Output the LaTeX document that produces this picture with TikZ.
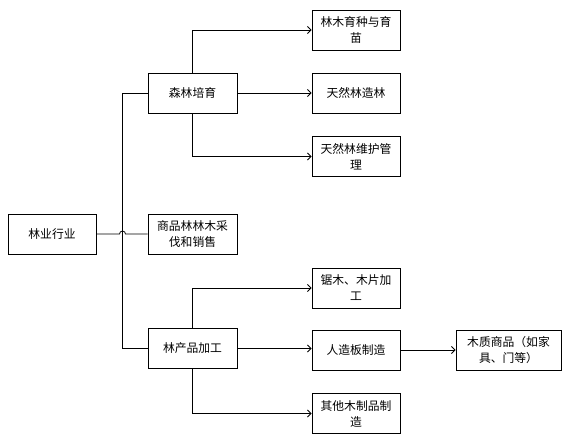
\documentclass[tikz,border=0pt]{standalone}
\usepackage{fontspec}
\setmainfont{Noto Sans CJK SC}
\usetikzlibrary{arrows.meta}
\begin{document}
\begin{tikzpicture}[x=1pt,y=-1pt,
  box/.style={draw, line width=0.9pt, minimum width=88pt, minimum height=40pt, align=center, inner sep=0pt, font=\fontsize{11.8pt}{16pt}\selectfont},
  conn/.style={line width=0.8pt},
  arr/.style={conn, -{Straight Barb[length=3.5pt,width=7pt]}}]
\useasboundingbox (0,0) rectangle (567,439);
\node[box] (root) at (52,234) {林业行业};
\node[box, minimum width=89pt] (sl) at (192.5,93) {森林培育};
\node[box, minimum width=89pt] (sp) at (192.5,234) {商品林林木采\\伐和销售};
\node[box, minimum width=89pt] (lc) at (192.5,348.5) {林产品加工};
\node[box] (r1) at (356,30) {林木育种与育\\苗};
\node[box] (r2) at (356,93) {天然林造林};
\node[box] (r3) at (356,156.5) {天然林维护管\\理};
\node[box] (r4) at (356,288) {锯木、木片加\\工};
\node[box] (r5) at (356,350) {人造板制造};
\node[box] (r6) at (356,413.5) {其他木制品制\\造};
\node[box, minimum width=105pt] (w) at (508.5,350) {木质商品（如家\\具、门等）};
% trunk
\coordinate (tr) at (122.5,93);
\coordinate (bl) at (122.5,348.5);
\draw[conn] (sl.west) -- (tr) -- (bl) -- (lc.west);
% root to sp with hop
\coordinate (hl) at (119.5,234);
\draw[conn] (root.east) -- (hl) arc[start angle=180,end angle=0,radius=3pt] -- (sp.west);
% forest branches
\draw[arr] (sl.north) |- (r1.west);
\draw[arr] (sl.east) -- (r2.west);
\draw[arr] (sl.south) |- (r3.west);
% processing branches
\draw[arr] (lc.north) |- (r4.west);
\draw[arr] (lc.east) -- (lc.east -| r5.west);
\draw[arr] (lc.south) |- (r6.west);
\draw[arr] (r5.east) -- (w.west);
\end{tikzpicture}
\end{document}
